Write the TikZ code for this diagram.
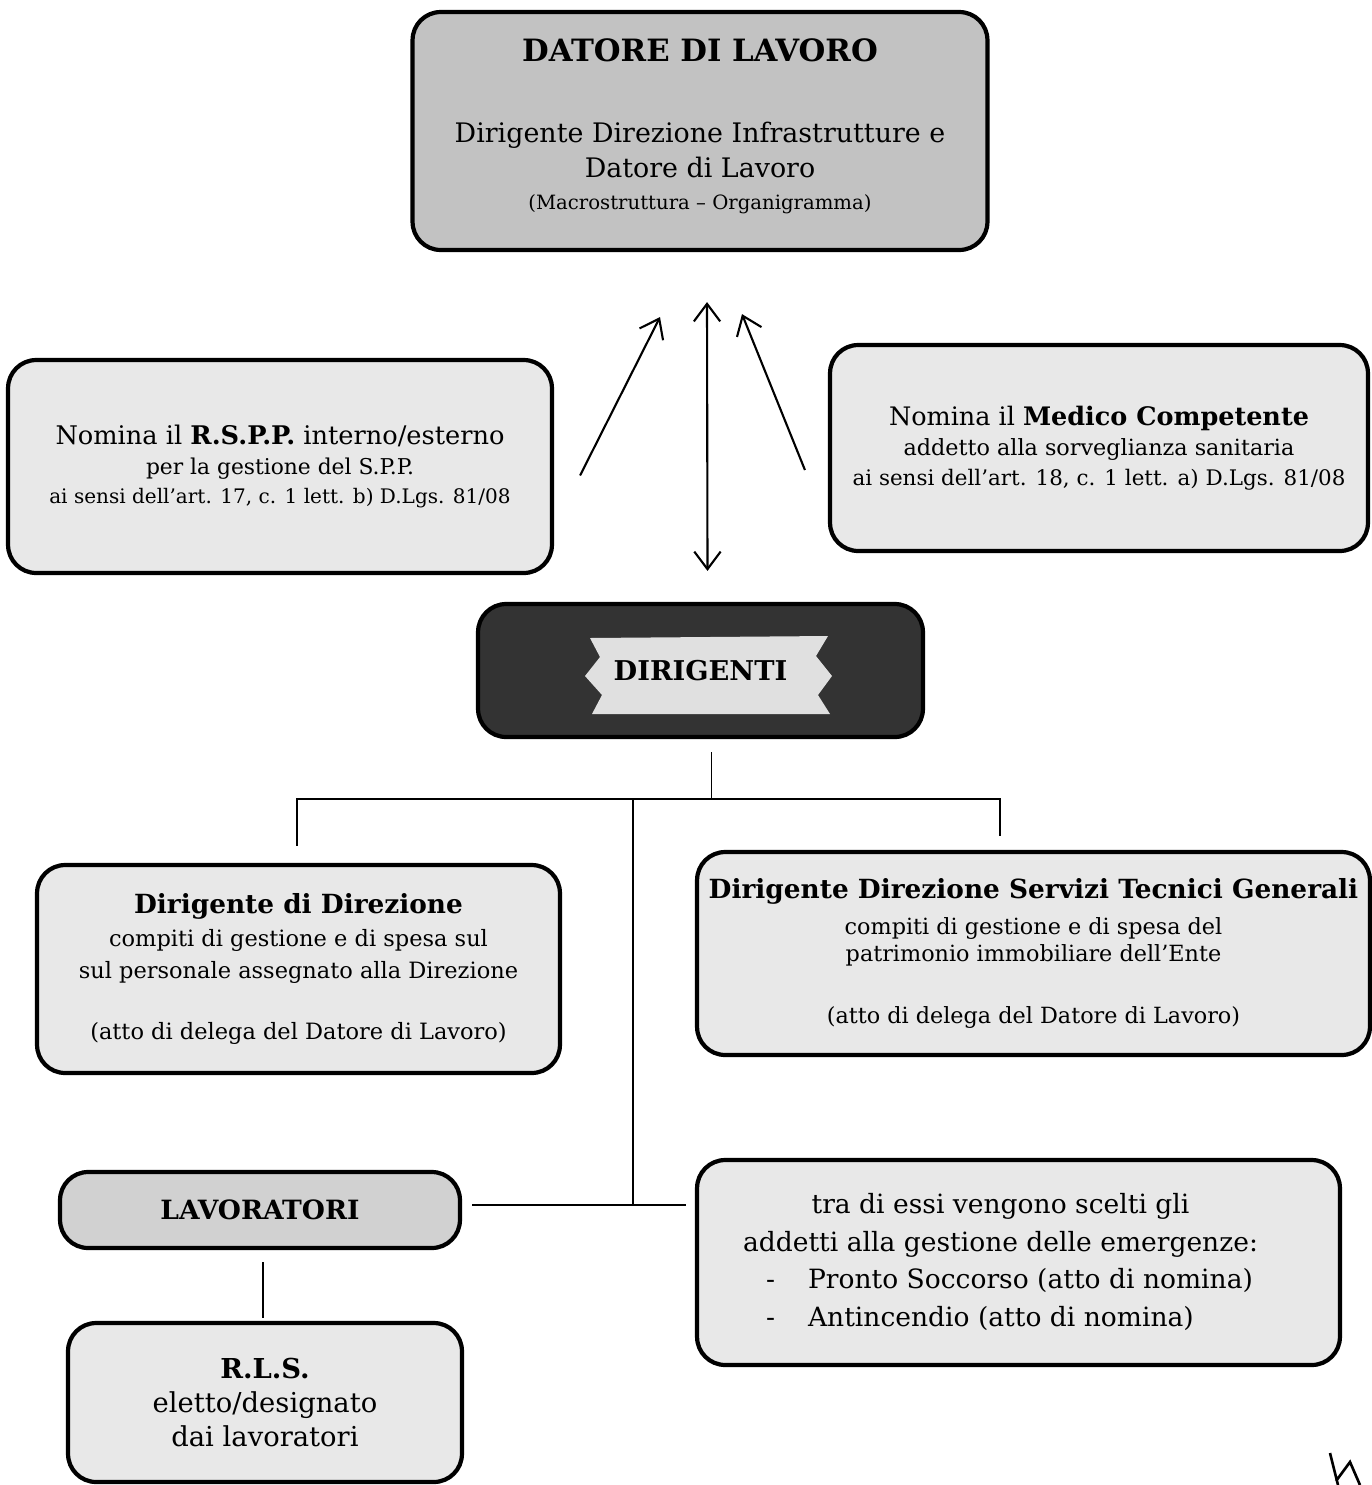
\documentclass[tikz,border=0pt]{standalone}
\usepackage{fontspec}
\setmainfont{DejaVu Serif}
\usetikzlibrary{calc}
\usetikzlibrary{arrows.meta}
\tikzset{
	every path/.style={thick},
	align=center,
	organo/.style={
		draw,
		rectangle,
		rounded corners=16pt,
		line width=2.4pt,
		fill=black!9,
		inner sep=0pt,
	},
	capo/.style={
		organo,
		fill=black!24,
	},
	scuro/.style={
		organo,
		fill=black!80,
	},
	nomina/.style={
		line width=1.2pt,
		-{Straight Barb[length=10pt,width=15pt,line width=1.2pt]}
	},
	reciproca/.style={
		line width=1.2pt,
		{Straight Barb[length=10pt,width=15pt,line width=1.2pt]}-{Straight Barb[length=10pt,width=15pt,line width=1.2pt]}
	},
	ramo/.style={line width=0.7pt},
}

\begin{document}
\begin{tikzpicture}[x=0.02cm, y=-0.02cm]
		\useasboundingbox (0,0) rectangle (1372,1485);

		\node[capo, minimum width=11.5cm, minimum height=4.76cm, font=\fontsize{15.3}{20}\selectfont]
			(datore) at (700,131) {{\bfseries\fontsize{17.5}{20}\selectfont DATORE DI LAVORO}\\[26pt]
			Dirigente Direzione Infrastrutture e\\ Datore di Lavoro\\[-2pt]
			{\fontsize{11.2}{15}\selectfont (Macrostruttura – Organigramma)}\\[-12pt] \rule{0pt}{0pt}};

		\node[organo, minimum width=10.88cm, minimum height=4.26cm, font=\fontsize{11.8}{17}\selectfont]
			(rspp) at (280,466.5) {{\fontsize{14.6}{17}\selectfont Nomina il \textbf{R.S.P.P.} interno/esterno}\\
			{\fontsize{12.4}{17}\selectfont per la gestione del S.P.P.}\\ {\fontsize{11.4}{17}\selectfont ai sensi dell’art. 17, c. 1 lett. b) D.Lgs. 81/08}};
		\node[organo, minimum width=10.76cm, minimum height=4.12cm, font=\fontsize{12.4}{17}\selectfont]
			(medico) at (1099,448) {{\fontsize{14.5}{22}\selectfont Nomina il \textbf{Medico Competente}}\\
			{\fontsize{12.7}{17}\selectfont addetto alla sorveglianza sanitaria}\\ {\fontsize{12.2}{17}\selectfont ai sensi dell’art. 18, c. 1 lett. a) D.Lgs. 81/08}};

		\coordinate (pl) at ($(rspp.east)+(26,9)$);
		\coordinate (tl) at ($(datore.south)+(-40,65)$);
		\coordinate (pr) at ($(medico.west)+(-23,22)$);
		\coordinate (tr) at ($(datore.south)+(42,62)$);
		\draw[nomina] (pl) -- (tl);
		\draw[nomina] (pr) -- (tr);

%*********

		\node[scuro, minimum width=8.9cm, minimum height=2.66cm] (dirigenti) at (700.5,670.5) {};
		\fill[black!12] (590,638) -- (828,636) -- (816,656) -- (832,676) -- (818,695) -- (830,714)
			-- (592,714) -- (602,695) -- (585,676) -- (600,657) -- cycle;
		\node[font=\bfseries\fontsize{15.5}{18}\selectfont] (dirtesto) at (dirigenti.center) {DIRIGENTI};

		\draw[reciproca] ($(datore.south)+(7,50)$) -- ($(dirigenti.north)+(7,-31)$);

%*********

		\node[organo, minimum width=10.46cm, minimum height=4.16cm, font=\fontsize{12.8}{18.5}\selectfont]
			(dirdir) at (298.5,969) {{\bfseries\fontsize{15}{20}\selectfont Dirigente di Direzione}\\
			compiti di gestione e di spesa sul\\ sul personale assegnato alla Direzione\\[16pt]
			(atto di delega del Datore di Lavoro)};
		\node[organo, minimum width=13.46cm, minimum height=4.06cm, font=\fontsize{12.7}{15.5}\selectfont]
			(servtec) at (1033.5,953.5) {{\bfseries\fontsize{15}{21}\selectfont Dirigente Direzione Servizi Tecnici Generali}\\[5pt]
			compiti di gestione e di spesa del\\ patrimonio immobiliare dell’Ente\\[20pt]
			(atto di delega del Datore di Lavoro)};

		\coordinate (bus) at ($(dirigenti.south)+(11,60)$);
		\coordinate (nodo) at (633,1205);
		\draw[ramo] ($(dirigenti.south)+(11,13)$) -- (bus);
		\draw[ramo] ($(dirdir.north)+(-1.5,-17)$) |- (bus) -| ($(servtec.north)+(-33.5,-14)$);
		\draw[ramo] (nodo |- bus) -- (nodo);

%*********

		\node[organo, fill=black!18, minimum width=8cm, minimum height=1.52cm, font=\bfseries\fontsize{15.1}{17}\selectfont]
			(lavoratori) at (260,1210) {LAVORATORI};
		\node[organo, minimum width=7.88cm, minimum height=3.18cm, font=\fontsize{15.6}{19.5}\selectfont]
			(rls) at (265,1402.5) {\textbf{R.L.S.}\\ eletto/designato\\ dai lavoratori};
		\node[organo, minimum width=12.86cm, minimum height=4.1cm, font=\fontsize{15.1}{21.5}\selectfont]
			(emergenze) at (1018.5,1262.5) {\hspace*{-0.72cm}\begin{tabular}{@{}c@{}}
			tra di essi vengono scelti gli\\ addetti alla gestione delle emergenze:\\
			\makebox[10.3cm][l]{\hspace{0.46cm}\makebox[0.84cm][l]{-}Pronto Soccorso (atto di nomina)}\\
			\makebox[10.3cm][l]{\hspace{0.46cm}\makebox[0.84cm][l]{-}Antincendio (atto di nomina)}
			\end{tabular}};

		\draw[ramo] ($(lavoratori.east)+(10,-5)$) -- ($(emergenze.west)+(-9,-57.5)$);
		\draw[ramo] ($(lavoratori.south)+(3,12)$) -- ($(rls.north)+(-2,-3)$);

		\draw[line width=1.5pt] (1330,1453) -- (1338,1485) (1336,1481) -- (1350,1462) -- (1360,1485);

	\end{tikzpicture}
\end{document}
